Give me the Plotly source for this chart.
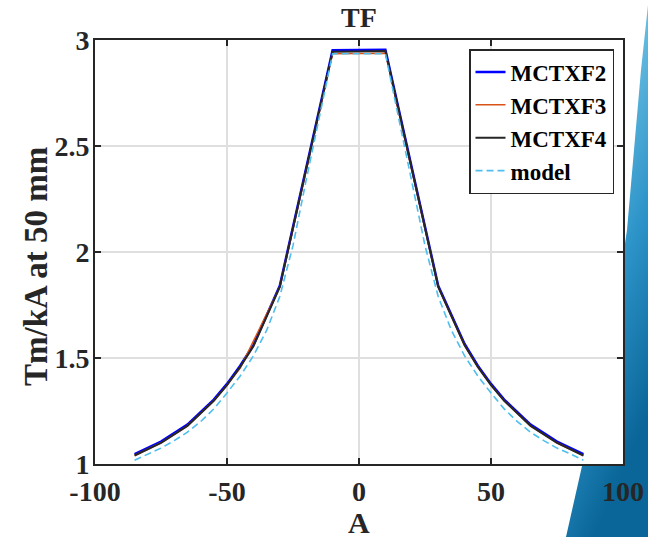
import base64
import plotly.graph_objects as go

# ---------------- data ----------------
current = [-85, -75, -65, -55, -50, -45, -40, -30, -20, -10,
           10, 20, 30, 40, 45, 50, 55, 65, 75, 85]
tf_mctxf2 = [1.046, 1.106, 1.186, 1.304, 1.378, 1.464, 1.561, 1.841, 2.396, 2.952,
             2.954, 2.396, 1.841, 1.566, 1.464, 1.378, 1.304, 1.186, 1.106, 1.046]
tf_mctxf4 = [1.040, 1.100, 1.180, 1.298, 1.372, 1.458, 1.555, 1.835, 2.390, 2.945,
             2.948, 2.390, 1.835, 1.560, 1.458, 1.372, 1.298, 1.180, 1.100, 1.040]

current_f3 = [-85, -75, -65, -55, -50, -45, -30, -20, -10,
              10, 20, 30, 40, 45, 50, 55, 65, 75, 85]
tf_mctxf3 = [1.040, 1.100, 1.180, 1.298, 1.372, 1.452, 1.835, 2.388, 2.935,
             2.938, 2.388, 1.835, 1.560, 1.458, 1.372, 1.298, 1.180, 1.100, 1.040]

current_model = [-85, -80, -75, -70, -65, -60, -55, -50, -45, -40, -35, -30, -25, -20, -15, -10,
                 10, 15, 20, 25, 30, 35, 40, 45, 50, 55, 60, 65, 70, 75, 80, 85]
tf_model = [1.018, 1.048, 1.075, 1.110, 1.150, 1.200, 1.260, 1.335, 1.415, 1.510, 1.630, 1.790,
            2.030, 2.340, 2.630, 2.935,
            2.935, 2.630, 2.340, 2.030, 1.790, 1.630, 1.510, 1.415, 1.335, 1.260, 1.200, 1.150,
            1.110, 1.075, 1.048, 1.018]

x_ticks = [-100, -50, 0, 50, 100]
y_ticks = [1, 1.5, 2, 2.5, 3]

FONT = "Liberation Serif"
DARK = "#262626"

fig = go.Figure()
fig.add_trace(go.Scatter(x=current, y=tf_mctxf2, mode="lines", name="<b>MCTXF2</b>",
                         line=dict(color="#0000FF", width=2.5)))
fig.add_trace(go.Scatter(x=current_f3, y=tf_mctxf3, mode="lines", name="<b>MCTXF3</b>",
                         line=dict(color="#D95319", width=1.5)))
fig.add_trace(go.Scatter(x=current, y=tf_mctxf4, mode="lines", name="<b>MCTXF4</b>",
                         line=dict(color=DARK, width=2)))
fig.add_trace(go.Scatter(x=current_model, y=tf_model, mode="lines", name="<b>model</b>",
                         line=dict(color="#4DBEEE", width=1.6, dash="7px,4px")))

# background decoration (slide theme facet on the right)
svg = ('<svg xmlns="http://www.w3.org/2000/svg" width="648" height="537" viewBox="0 0 648 537">'
       '<defs><linearGradient id="g" x1="0" y1="0" x2="0.35" y2="1">'
       '<stop offset="0" stop-color="#C4E8F6"/><stop offset="0.3" stop-color="#6CC0E3"/>'
       '<stop offset="0.65" stop-color="#2C93C8"/><stop offset="1" stop-color="#0A6598"/>'
       '</linearGradient></defs>'
       '<polygon points="648,5 641,70 634,150 627,230 624,250 624,466 582,466 566,537 648,537" '
       'fill="url(#g)"/></svg>')
src = "data:image/svg+xml;base64," + base64.b64encode(svg.encode()).decode()

L, R, T, B = 95, 25, 40, 73
W, H = 648, 537
pw, ph = W - L - R, H - T - B
fig.add_layout_image(dict(source=src, xref="paper", yref="paper",
                          x=-L / pw, y=(ph + T) / ph, sizex=W / pw, sizey=H / ph,
                          xanchor="left", yanchor="top", sizing="stretch", layer="below"))

axis_common = dict(showline=True, linewidth=2, linecolor=DARK, mirror="ticks",
                   ticks="inside", ticklen=6, tickwidth=2, tickcolor=DARK,
                   showgrid=True, gridcolor="#DFDFDF", gridwidth=1.5, zeroline=False,
                   automargin=False,
                   tickfont=dict(family=FONT, size=28, color=DARK))

fig.update_layout(
    width=W, height=H, autosize=False,
    margin=dict(l=L, r=R, t=T, b=B, autoexpand=False),
    paper_bgcolor="white", plot_bgcolor="white",
    font=dict(family=FONT, color=DARK),
    title=dict(text="<b>TF</b>", x=(L + pw / 2) / W, xanchor="center",
               y=1 - 17 / H, yanchor="middle", font=dict(family=FONT, size=28, color=DARK)),
    xaxis=dict(range=[-100, 100], tickvals=x_ticks, ticktext=[f"<b>{v}</b>" for v in x_ticks],
               ticklabelstandoff=1, **axis_common),
    yaxis=dict(range=[1, 3], tickvals=y_ticks, ticktext=[f"<b>{v:g}</b>" for v in y_ticks],
               ticklabelstandoff=-2, **axis_common),
    legend=dict(x=(614 - L) / pw, xanchor="right", y=(H - B - 49) / ph, yanchor="top",
                bgcolor="white", bordercolor=DARK, borderwidth=1.5,
                font=dict(family=FONT, size=23, color="black"), tracegroupgap=0),
    showlegend=True,
    annotations=[
        dict(text="<b>A</b>", xref="paper", yref="paper", x=0.5, y=-(522 - (H - B)) / ph,
             xanchor="center", yanchor="middle", showarrow=False,
             font=dict(family=FONT, size=30, color=DARK)),
        dict(text="<b>Tm/kA at 50 mm</b>", xref="paper", yref="paper",
             x=(36 - L) / pw, y=(H - B - 267) / ph, textangle=-90,
             xanchor="center", yanchor="middle", showarrow=False,
             font=dict(family=FONT, size=33, color=DARK)),
    ],
)

fig.write_html("out.html", post_script="document.body.style.margin='0';",
               config={"displayModeBar": False, "responsive": False})
